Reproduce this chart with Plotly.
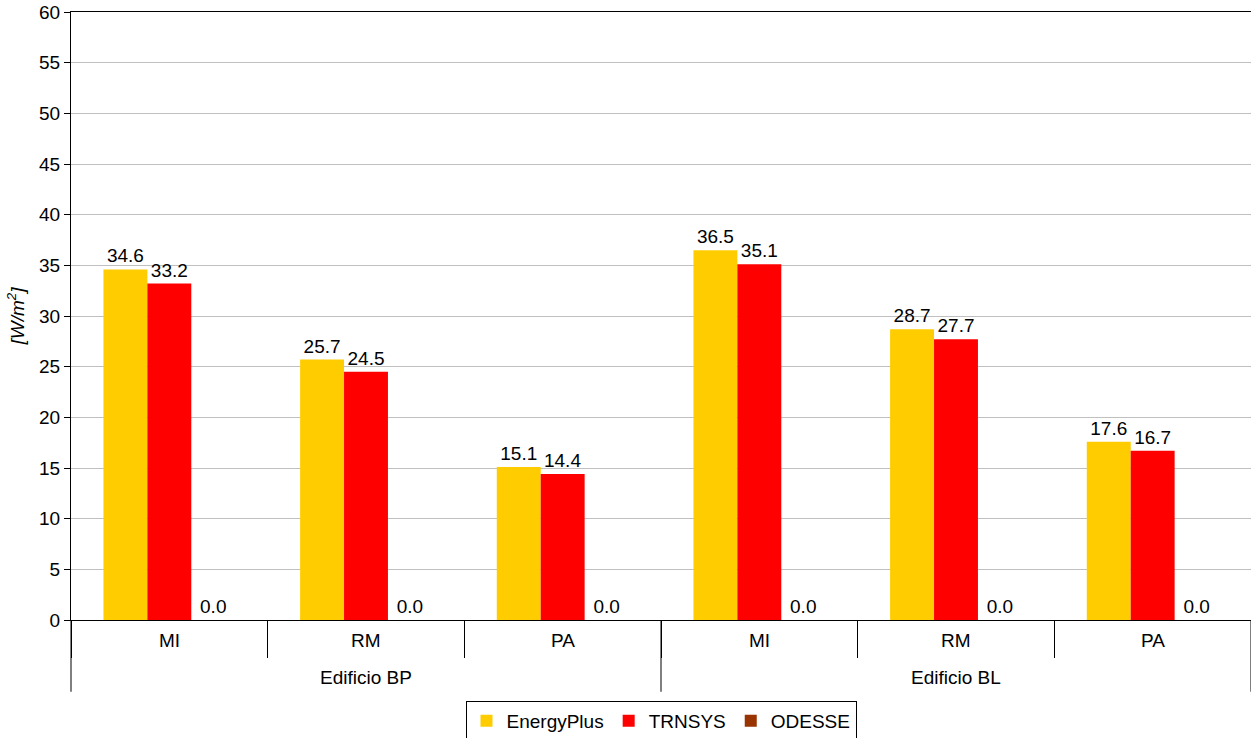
import plotly.graph_objects as go

edificios = ["Edificio BP"] * 3 + ["Edificio BL"] * 3
localita = ["MI", "RM", "PA", "MI", "RM", "PA"]

energyplus = [34.6, 25.7, 15.1, 36.5, 28.7, 17.6]
trnsys = [33.2, 24.5, 14.4, 35.1, 27.7, 16.7]
odesse = [0.0, 0.0, 0.0, 0.0, 0.0, 0.0]

series = [
    ("EnergyPlus", energyplus, "#FFCC00"),
    ("TRNSYS", trnsys, "#FF0000"),
    ("ODESSE", odesse, "#993300"),
]

fig = go.Figure()
for name, vals, color in series:
    fig.add_trace(go.Bar(
        x=[edificios, localita], y=vals, name=name,
        marker=dict(color=color, line=dict(width=0)),
        text=vals, texttemplate="%{y:.1f}", textposition="outside",
        textfont=dict(size=19, color="black"), cliponaxis=False,
    ))

# two-level category labels and separators under the axis
n = len(localita)
for i, lab in enumerate(localita):
    fig.add_annotation(x=(i + 0.5) / n, y=-0.033, xref="paper", yref="paper",
                       text=lab, showarrow=False, font=dict(size=19),
                       xanchor="center", yanchor="middle")
gruppi = list(dict.fromkeys(edificios))
for g in gruppi:
    idx = [i for i, e in enumerate(edificios) if e == g]
    fig.add_annotation(x=(min(idx) + max(idx) + 1) / 2 / n, y=-0.095, xref="paper", yref="paper",
                       text=g, showarrow=False, font=dict(size=19),
                       xanchor="center", yanchor="middle")
    fig.add_shape(type="line", xref="paper", yref="paper", x0=min(idx) / n, x1=min(idx) / n,
                  y0=0, y1=-0.118, line=dict(color="black", width=1))
fig.add_shape(type="line", xref="paper", yref="paper", x0=1, x1=1,
              y0=0, y1=-0.118, line=dict(color="black", width=1))

fig.update_layout(
    width=1251, height=738,
    margin=dict(l=71, r=0, t=12, b=118, autoexpand=False),
    paper_bgcolor="white", plot_bgcolor="white",
    font=dict(family="Liberation Sans, Arial, sans-serif", color="black", size=19),
    barmode="group", bargap=0.33, bargroupgap=0,
    showlegend=True,
    legend=dict(orientation="h", x=0.5, xanchor="center", y=-0.133, yanchor="top",
                bordercolor="black", borderwidth=1, font=dict(size=19),
                itemwidth=30, tracegroupgap=0),
)
fig.update_yaxes(
    range=[0, 60], dtick=5, showgrid=True, gridcolor="#C0C0C0", gridwidth=1,
    showline=True, linecolor="black", linewidth=1, ticks="outside", ticklen=6,
    tickcolor="black", tickfont=dict(size=19), zeroline=False, automargin=False,
    ticklabeloverflow="allow",
    title=dict(text="<i>[W/m<sup>2</sup>]</i>", font=dict(size=19), standoff=9),
)
fig.update_xaxes(
    showline=True, linecolor="black", linewidth=1, mirror=True,
    ticks="outside", ticklen=37, tickcolor="black",
    showticklabels=False, showdividers=False, automargin=False,
)

# drop the default body margin so the figure fills the window
fig.write_html("out.html", config={"displayModeBar": False},
               post_script="document.body.style.margin='0';")
